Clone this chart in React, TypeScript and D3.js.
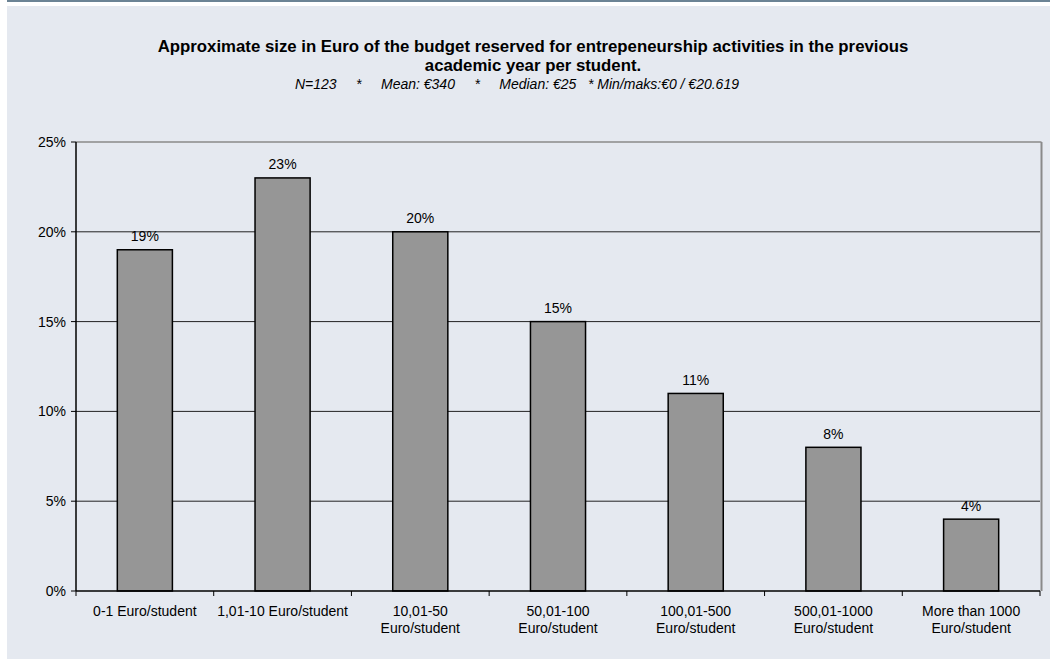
import React from "react";
import * as d3 from "d3";

const categories: string[][] = [
  ["0-1 Euro/student"],
  ["1,01-10 Euro/student"],
  ["10,01-50", "Euro/student"],
  ["50,01-100", "Euro/student"],
  ["100,01-500", "Euro/student"],
  ["500,01-1000", "Euro/student"],
  ["More than 1000", "Euro/student"],
];
const values: number[] = [19, 23, 20, 15, 11, 8, 4];
const yTicks: number[] = [0, 5, 10, 15, 20, 25];
const titleLines: string[] = [
  "Approximate size in Euro of the budget reserved for entrepeneurship activities in the previous",
  "academic year per student.",
];
const subtitle = "N=123     *     Mean: €340     *     Median: €25   * Min/maks:€0 / €20.619";

const W = 1050;
const H = 659;
const left = 76;
const right = 1040;
const top = 142;
const bottom = 591;
const FONT = "'Liberation Sans', Arial, sans-serif";

export default function App() {
  const x = d3
    .scaleBand<number>()
    .domain(d3.range(categories.length))
    .range([left, right])
    .paddingInner(0.6)
    .paddingOuter(0.3);
  const band = (right - left) / categories.length;
  const y = d3.scaleLinear().domain([0, 25]).range([bottom, top]);

  return (
    <svg
      width={W}
      height={H}
      style={{ position: "absolute", left: 0, top: 0, display: "block" }}
      fontFamily={FONT}
    >
      <rect x={0} y={0} width={W} height={H} fill="#ffffff" />
      <rect x={7} y={6} width={W - 7} height={H - 6} fill="#E5E9F0" />
      <rect x={7} y={0} width={W - 7} height={2} fill="#6B8394" />

      {titleLines.map((t, i) => (
        <text
          key={i}
          x={533}
          y={52 + i * 18.5}
          textAnchor="middle"
          fontWeight="bold"
          fontSize={16.8}
          fill="#000"
        >
          {t}
        </text>
      ))}
      <text
        x={517}
        y={89}
        textAnchor="middle"
        fontStyle="italic"
        fontSize={14}
        fill="#000"
        style={{ whiteSpace: "pre" }}
      >
        {subtitle}
      </text>

      {/* gridlines */}
      {yTicks.slice(1, -1).map((t) => (
        <line key={t} x1={left} x2={right} y1={y(t)} y2={y(t)} stroke="#222" strokeWidth={1} />
      ))}
      {/* plot border top & right */}
      <line x1={left} x2={right + 1.5} y1={y(25)} y2={y(25)} stroke="#8a8a8a" strokeWidth={1.5} />
      <line x1={right + 1.5} x2={right + 1.5} y1={y(25)} y2={bottom} stroke="#8a8a8a" strokeWidth={2} />

      {/* bars */}
      {values.map((v, i) => (
        <g key={i}>
          <rect
            x={x(i)!}
            y={y(v)}
            width={x.bandwidth()}
            height={bottom - y(v)}
            fill="#969696"
            stroke="#000"
            strokeWidth={1.5}
          />
          <text
            x={x(i)! + x.bandwidth() / 2}
            y={y(v) - 8.5}
            textAnchor="middle"
            fontSize={14}
            fill="#000"
          >
            {v}%
          </text>
        </g>
      ))}

      {/* y axis */}
      <line x1={left} x2={left} y1={top} y2={bottom} stroke="#000" strokeWidth={1.5} />
      {yTicks.map((t) => (
        <g key={t}>
          <line x1={left - 5} x2={left} y1={y(t)} y2={y(t)} stroke="#000" strokeWidth={1} />
          <text x={left - 10} y={y(t) + 5} textAnchor="end" fontSize={14} fill="#000">
            {t}%
          </text>
        </g>
      ))}

      {/* x axis */}
      <line x1={left} x2={right} y1={bottom} y2={bottom} stroke="#000" strokeWidth={1.5} />
      {d3.range(categories.length + 1).map((i) => (
        <line
          key={i}
          x1={left + i * band}
          x2={left + i * band}
          y1={bottom}
          y2={bottom + 5}
          stroke="#000"
          strokeWidth={1}
        />
      ))}
      {categories.map((lines, i) => (
        <text
          key={i}
          x={x(i)! + x.bandwidth() / 2}
          textAnchor="middle"
          fontSize={14}
          fill="#000"
        >
          {lines.map((l, j) => (
            <tspan key={j} x={x(i)! + x.bandwidth() / 2} y={616 + j * 16.7}>
              {l}
            </tspan>
          ))}
        </text>
      ))}
    </svg>
  );
}
